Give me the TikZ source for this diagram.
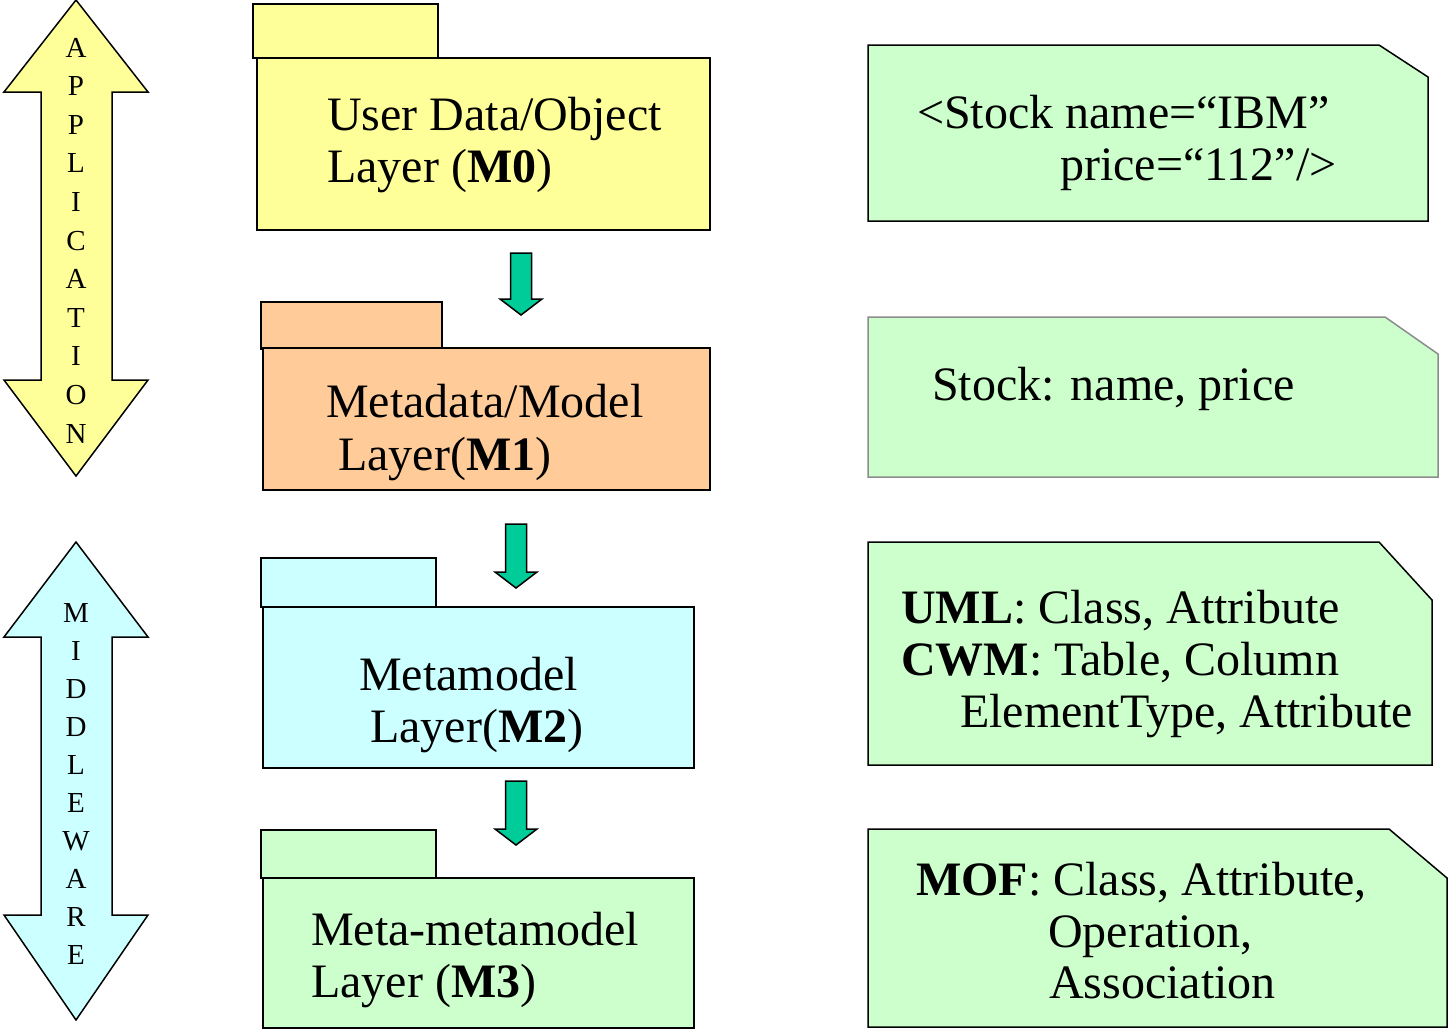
\documentclass[tikz,border=0pt]{standalone}
\usepackage{fontspec}
\setmainfont{Liberation Serif}
\definecolor{yel}{HTML}{FFFF99}
\definecolor{org}{HTML}{FFCC99}
\definecolor{cya}{HTML}{CCFFFF}
\definecolor{grn}{HTML}{CCFFCC}
\definecolor{teal}{HTML}{00CC99}
\definecolor{gborder}{HTML}{8C8C8C}
\begin{document}
\begin{tikzpicture}[x=1pt,y=-1pt,
  box/.style={draw=black, line width=1.5pt, inner sep=0pt, anchor=north west},
  txt/.style={anchor=base west, inner sep=0pt, font=\fontsize{48}{52}\selectfont},
  vlet/.style={anchor=base, inner sep=0pt, font=\fontsize{29}{32}\selectfont},
  note/.style={draw=black, line width=1.5pt, fill=grn, line join=miter},
  dbl/.style={draw=black, line width=1.5pt, line join=miter},
  garrow/.style={draw=black, line width=1.5pt, fill=teal, line join=miter}]
\useasboundingbox (0,0) rectangle (1449,1029);

% vertical double arrows
\draw[dbl, fill=yel] (76,0) -- (148,92) -- (112,92) -- (112,380) -- (148,380) -- (76,476)
  -- (4,380) -- (41,380) -- (41,92) -- (4,92) -- cycle;
\draw[dbl, fill=cya] (76,542) -- (148,637) -- (112,637) -- (112,915) -- (148,915) -- (76,1020)
  -- (4,915) -- (41,915) -- (41,637) -- (4,637) -- cycle;
\foreach \l [count=\i from 0] in {A,P,P,L,I,C,A,T,I,O,N}
  \node[vlet] (app\i) at (76,{57+38.6*\i}) {\l};
\foreach \l [count=\i from 0] in {M,I,D,D,L,E,W,A,R,E}
  \node[vlet] (mid\i) at (76,{622+38.1*\i}) {\l};

% layer packages
\node[box, fill=yel, minimum width=185pt, minimum height=54pt] (m0tab) at (252,3) {};
\node[box, fill=yel, minimum width=453pt, minimum height=172pt] (m0) at (256,57) {};
\node[box, fill=org, minimum width=181pt, minimum height=47pt] (m1tab) at (260,301) {};
\node[box, fill=org, minimum width=447pt, minimum height=142pt] (m1) at (262,347) {};
\node[box, fill=cya, minimum width=175pt, minimum height=49pt] (m2tab) at (260,557) {};
\node[box, fill=cya, minimum width=431pt, minimum height=161pt] (m2) at (262,606) {};
\node[box, fill=grn, minimum width=175pt, minimum height=48pt] (m3tab) at (260,829) {};
\node[box, fill=grn, minimum width=431pt, minimum height=150pt] (m3) at (262,877) {};

\node[txt] (m0a) at (327,130) {User Data/Object};
\node[txt] (m0b) at (327,182) {Layer (\textbf{M0})};
\node[txt] (m1a) at (326,417) {Metadata/Model};
\node[txt] (m1b) at (338,470) {Layer(\textbf{M1})};
\node[txt] (m2a) at (359,690) {Metamodel};
\node[txt] (m2b) at (370,742) {Layer(\textbf{M2})};
\node[txt] (m3a) at (311,945) {Meta-metamodel};
\node[txt] (m3b) at (311,997) {Layer (\textbf{M3})};

% green block arrows
\foreach \cx/\ty/\tip [count=\k] in {521/253/315, 516/524/588, 516/781/845}
  \draw[garrow] ({\cx-10.5},\ty) -- ({\cx+10.5},\ty) -- ({\cx+10.5},{\tip-16}) -- ({\cx+21},{\tip-16})
    -- (\cx,\tip) -- ({\cx-21},{\tip-16}) -- ({\cx-10.5},{\tip-16}) -- cycle;

% notes
\draw[note] (868,45) -- (1379,45) -- (1428,77) -- (1428,221) -- (868,221) -- cycle;
\draw[note, draw=gborder] (868,317) -- (1385,317) -- (1438,354) -- (1438,477) -- (868,477) -- cycle;
\draw[note] (868,542) -- (1379,542) -- (1432,600) -- (1432,765) -- (868,765) -- cycle;
\draw[note] (868,829) -- (1389,829) -- (1447,878) -- (1447,1027) -- (868,1027) -- cycle;

\node[txt] (n1a) at (917,128) {<Stock name=“IBM”};
\node[txt] (n1b) at (1060,180) {price=“112”/>};
\node[txt] (n2a) at (932,400) {Stock: name, price};
\node[txt] (n3a) at (901,623) {\textbf{UML}: Class, Attribute};
\node[txt] (n3b) at (901,675) {\textbf{CWM}: Table, Column};
\node[txt] (n3c) at (960,727) {ElementType, Attribute};
\node[txt] (n4a) at (916,895) {\textbf{MOF}: Class, Attribute,};
\node[txt] (n4b) at (1048,947) {Operation,};
\node[txt] (n4c) at (1049,998) {Association};
\end{tikzpicture}
\end{document}
